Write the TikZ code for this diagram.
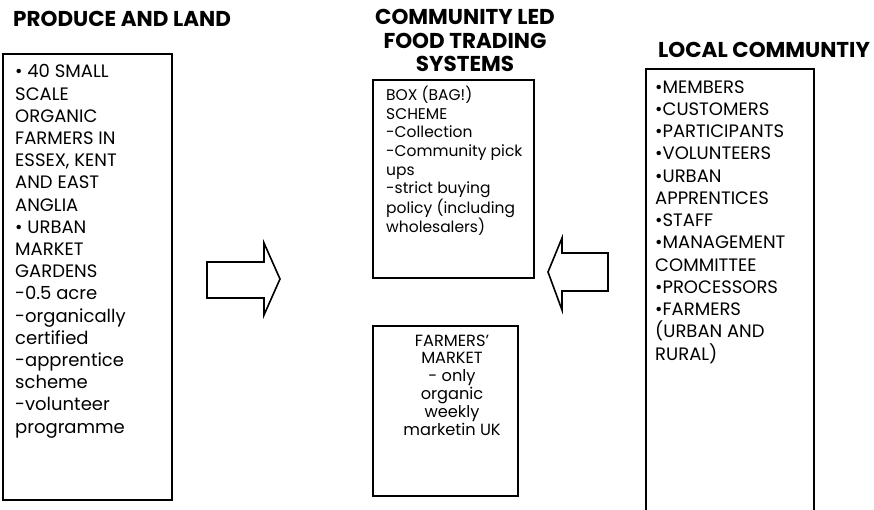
\documentclass[tikz,border=0pt]{standalone}
\usepackage{fontspec}
\setmainfont{Poppins}
\tikzset{
  box/.style={draw, rectangle, line width=1.6pt, inner sep=0pt, anchor=north west},
  heading/.style={font=\bfseries\fontsize{21.5}{23.5}\selectfont, inner sep=0pt},
  body/.style={align=left, inner sep=0pt, anchor=base west},
  bigarrow/.style={draw, line width=1.6pt, line join=miter}
}
\begin{document}
\begin{tikzpicture}[x=1pt, y=-1pt]
    \useasboundingbox (0,0) rectangle (874,510);
    \clip (0,0) rectangle (874,510);

    % Headings (placed at the baseline of their last line)
    \node[heading, anchor=base west] (hland) at (13,27) {PRODUCE AND LAND};
    \node[heading, anchor=base, align=center] (htrade) at (465,72) {COMMUNITY LED\\FOOD TRADING\\SYSTEMS};
    \node[heading, anchor=base west] (hlocal) at (658,58) {LOCAL COMMUNTIY};

    % Boxes
    \node[box, minimum width=169, minimum height=446] (land) at (2,53) {};
    \node[box, minimum width=161, minimum height=198] (box) at (372,79) {};
    \node[box, minimum width=145, minimum height=170] (market) at (372,325) {};
    \node[box, minimum width=168, minimum height=460] (local) at (645,68) {};

    % Box texts (placed at the baseline of their last line)
    \node[body, font=\fontsize{18}{22.2}\selectfont] (landtxt) at (15,433)
      {\textbullet{} 40 SMALL\\SCALE\\ORGANIC\\FARMERS IN\\ESSEX, KENT\\AND EAST\\ANGLIA\\\textbullet{} URBAN\\MARKET\\GARDENS\\-0.5 acre\\-organically\\certified\\-apprentice\\scheme\\-volunteer\\programme};
    \node[body, font=\fontsize{15.5}{18.6}\selectfont] (boxtxt) at (386,233)
      {BOX (BAG!)\\SCHEME\\-Collection\\-Community pick\\ups\\-strict buying\\policy (including\\wholesalers)};
    \node[body, anchor=base, align=center, font=\fontsize{16.2}{17.8}\selectfont] (markettxt) at (452,435)
      {FARMERS'\\MARKET\\- only\\organic\\weekly\\marketin UK};
    \node[body, font=\fontsize{18}{22.25}\selectfont] (localtxt) at (655,360)
      {\textbullet MEMBERS\\\textbullet CUSTOMERS\\\textbullet PARTICIPANTS\\\textbullet VOLUNTEERS\\\textbullet URBAN\\APPRENTICES\\\textbullet STAFF\\\textbullet MANAGEMENT\\COMMITTEE\\\textbullet PROCESSORS\\\textbullet FARMERS\\(URBAN AND\\RURAL)};

    % Block arrows
    \draw[bigarrow] (207,262) -- (264,262) -- (264,243) -- (280,279) -- (264,315) -- (264,298) -- (207,298) -- cycle;
    \draw[bigarrow] (608,253) -- (562,253) -- (562,238) -- (548,272) -- (562,310) -- (562,291) -- (608,291) -- cycle;
\end{tikzpicture}
\end{document}
